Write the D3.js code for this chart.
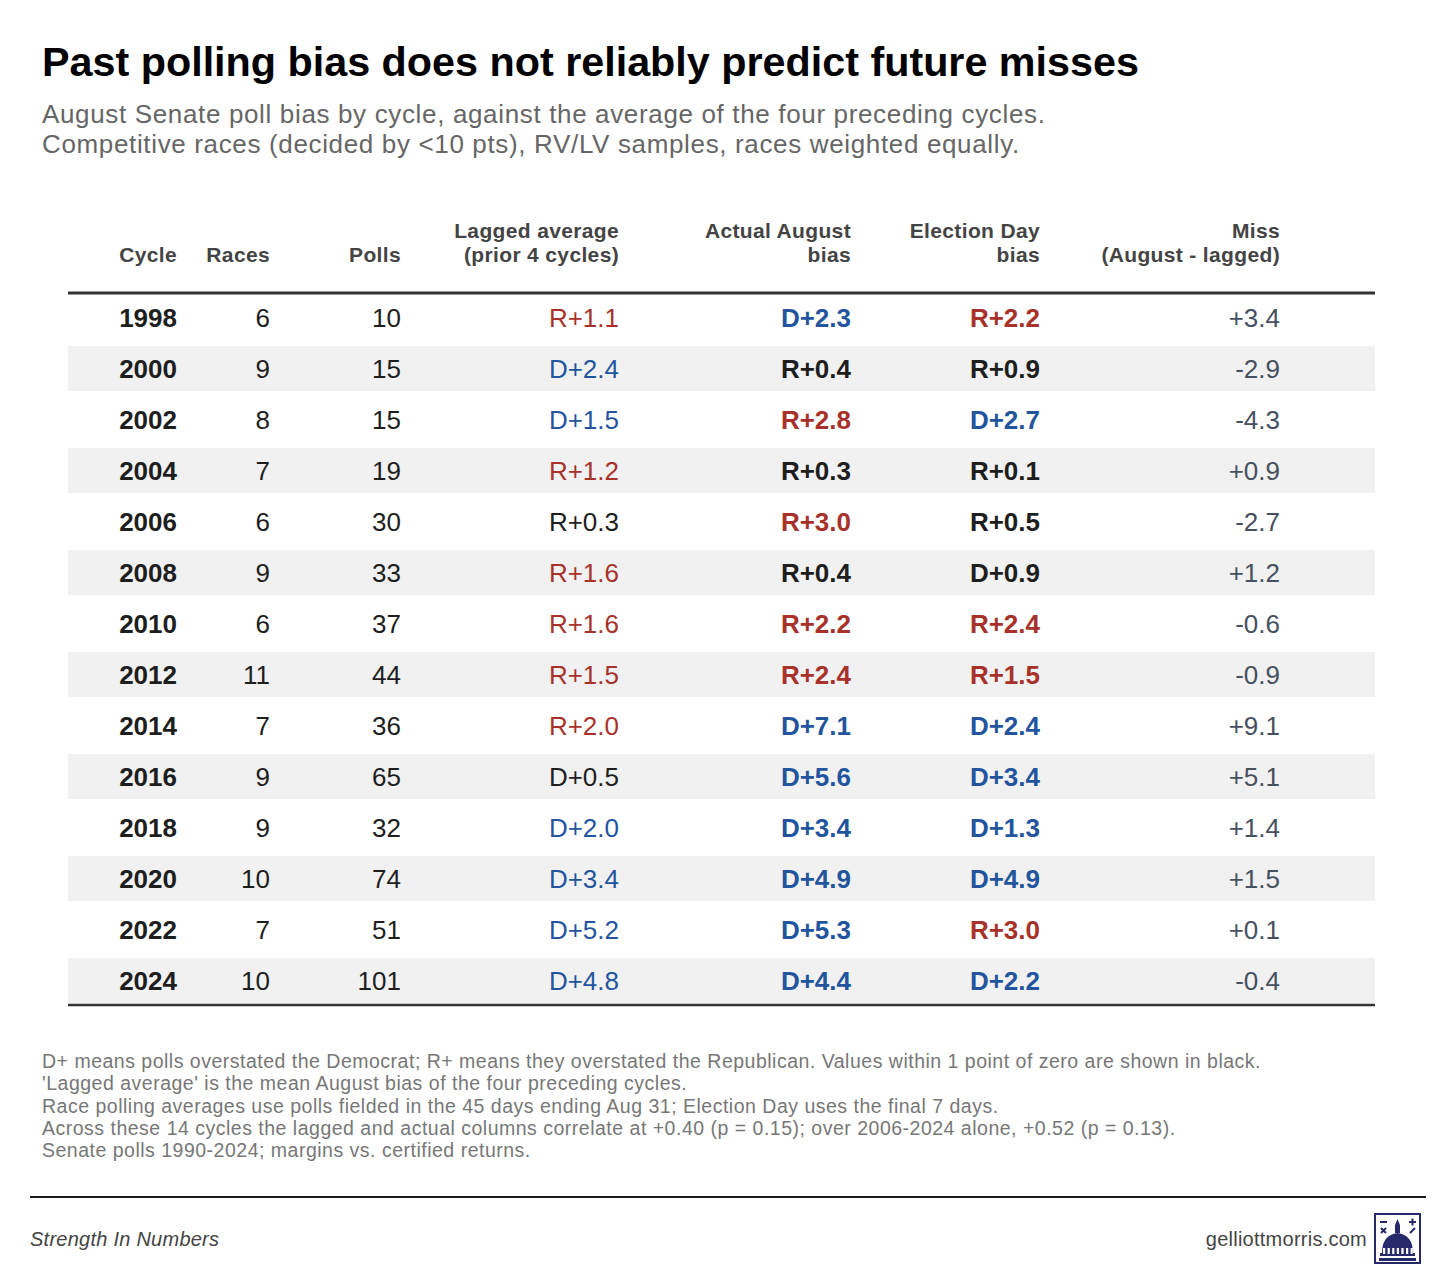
<!DOCTYPE html>
<html>
<head>
<meta charset="utf-8">
<script src="https://cdn.jsdelivr.net/npm/d3@7"></script>
<style>
  body { margin: 0; background: #fff; }
  svg { display: block; font-family: "Liberation Sans", Arial, Helvetica, sans-serif; }
</style>
</head>
<body>
<svg id="chart" width="1456" height="1274"></svg>
<script>
// table values (bias: positive = D+, negative = R+)
var cycles = [1998, 2000, 2002, 2004, 2006, 2008, 2010, 2012, 2014, 2016, 2018, 2020, 2022, 2024];
var races = [6, 9, 8, 7, 6, 9, 6, 11, 7, 9, 9, 10, 7, 10];
var polls = [10, 15, 15, 19, 30, 33, 37, 44, 36, 65, 32, 74, 51, 101];
var lagged = [-1.1, 2.4, 1.5, -1.2, -0.3, -1.6, -1.6, -1.5, -2.0, 0.5, 2.0, 3.4, 5.2, 4.8];
var actual = [2.3, -0.4, -2.8, -0.3, -3.0, -0.4, -2.2, -2.4, 7.1, 5.6, 3.4, 4.9, 5.3, 4.4];
var electionDay = [-2.2, -0.9, 2.7, -0.1, -0.5, 0.9, -2.4, -1.5, 2.4, 3.4, 1.3, 4.9, -3.0, 2.2];
var miss = [3.4, -2.9, -4.3, 0.9, -2.7, 1.2, -0.6, -0.9, 9.1, 5.1, 1.4, 1.5, 0.1, -0.4];

var colKeys = ["cycle", "races", "polls", "lagged", "actual", "eday", "miss"];
var colHeaders = [["Cycle"], ["Races"], ["Polls"], ["Lagged average", "(prior 4 cycles)"],
	["Actual August", "bias"], ["Election Day", "bias"], ["Miss", "(August - lagged)"]];

var notes = [
	"D+ means polls overstated the Democrat; R+ means they overstated the Republican. Values within 1 point of zero are shown in black.",
	"'Lagged average' is the mean August bias of the four preceding cycles.",
	"Race polling averages use polls fielded in the 45 days ending Aug 31; Election Day uses the final 7 days.",
	"Across these 14 cycles the lagged and actual columns correlate at +0.40 (p = 0.15); over 2006-2024 alone, +0.52 (p = 0.13).",
	"Senate polls 1990-2024; margins vs. certified returns."
];

var RED = "#a8322a", BLUE = "#23559e", INK = "#1e1e1e";

function fmtBias(v) {
	return (v >= 0 ? "D+" : "R+") + Math.abs(v).toFixed(1);
}
function biasColor(v) {
	if (Math.abs(v) < 1) return INK;
	return v > 0 ? BLUE : RED;
}
function fmtMiss(v) {
	return (v >= 0 ? "+" : "-") + Math.abs(v).toFixed(1);
}

var svg = d3.select("#chart");
var left = 68, right = 1375;

var y = d3.scaleBand().domain(cycles).range([292, 1006]);
var x = d3.scaleOrdinal().domain(colKeys).range([177, 270, 401, 619, 851, 1040, 1280]);

// title + subtitle
svg.append("text").attr("x", 42).attr("y", 76)
	.attr("font-size", 41.3).attr("font-weight", "bold").attr("fill", "#000")
	.text("Past polling bias does not reliably predict future misses");
var sub = ["August Senate poll bias by cycle, against the average of the four preceding cycles.",
	"Competitive races (decided by <10 pts), RV/LV samples, races weighted equally."];
svg.selectAll(".sub").data(sub).enter().append("text")
	.attr("x", 42).attr("y", function(d, i) { return 123 + i * 30; })
	.attr("font-size", 26).attr("letter-spacing", 0.65).attr("fill", "#666")
	.text(function(d) { return d; });

// headers
var hdr = svg.append("g").attr("font-size", 21).attr("letter-spacing", 0.35)
	.attr("font-weight", "bold").attr("fill", "#444");
colKeys.forEach(function(k, i) {
	var lines = colHeaders[i];
	lines.forEach(function(l, j) {
		hdr.append("text")
			.attr("x", x(k)).attr("text-anchor", "end")
			.attr("y", 262 - (lines.length - 1 - j) * 24.5)
			.text(l);
	});
});

// stripes
var rows = cycles.map(function(c, i) {
	return {cycle: c, races: races[i], polls: polls[i], lagged: lagged[i],
		actual: actual[i], eday: electionDay[i], miss: miss[i], i: i};
});
svg.selectAll(".stripe").data(rows.filter(function(d) { return d.i % 2 == 1; }))
	.enter().append("rect")
	.attr("x", left).attr("width", right - left)
	.attr("y", function(d) { return y(d.cycle) + 3; })
	.attr("height", y.bandwidth() - 6)
	.attr("fill", "#f1f1f1");

// cells
var cells = [
	{k: "cycle", txt: function(d) { return d.cycle; }, col: function() { return INK; }, bold: true},
	{k: "races", txt: function(d) { return d.races; }, col: function() { return INK; }, bold: false},
	{k: "polls", txt: function(d) { return d.polls; }, col: function() { return INK; }, bold: false},
	{k: "lagged", txt: function(d) { return fmtBias(d.lagged); }, col: function(d) { return biasColor(d.lagged); }, bold: false},
	{k: "actual", txt: function(d) { return fmtBias(d.actual); }, col: function(d) { return biasColor(d.actual); }, bold: true},
	{k: "eday", txt: function(d) { return fmtBias(d.eday); }, col: function(d) { return biasColor(d.eday); }, bold: true},
	{k: "miss", txt: function(d) { return fmtMiss(d.miss); }, col: function() { return "#46505f"; }, bold: false}
];
cells.forEach(function(c) {
	svg.append("g").selectAll("text").data(rows).enter().append("text")
		.attr("x", x(c.k)).attr("text-anchor", "end")
		.attr("y", function(d) { return y(d.cycle) + y.bandwidth() / 2 + 9; })
		.attr("font-size", 26)
		.attr("font-weight", c.bold ? "bold" : "normal")
		.attr("fill", c.col)
		.text(c.txt);
});

// table rules
svg.append("line").attr("x1", left).attr("x2", right).attr("y1", 293).attr("y2", 293)
	.attr("stroke", "#333").attr("stroke-width", 3);
svg.append("line").attr("x1", left).attr("x2", right).attr("y1", 1005).attr("y2", 1005)
	.attr("stroke", "#333").attr("stroke-width", 2.5);

// notes
svg.selectAll(".note").data(notes).enter().append("text")
	.attr("x", 42).attr("y", function(d, i) { return 1068 + i * 22.3; })
	.attr("font-size", 19.5).attr("letter-spacing", 0.5).attr("fill", "#777")
	.text(function(d) { return d; });

// footer
svg.append("line").attr("x1", 30).attr("x2", 1426).attr("y1", 1197).attr("y2", 1197)
	.attr("stroke", "#1a1a1a").attr("stroke-width", 2);
svg.append("text").attr("x", 30).attr("y", 1246)
	.attr("font-size", 20).attr("letter-spacing", 0.25).attr("font-style", "italic").attr("fill", "#444")
	.text("Strength In Numbers");
svg.append("text").attr("x", 1367).attr("y", 1246).attr("text-anchor", "end")
	.attr("font-size", 20).attr("letter-spacing", 0.25).attr("fill", "#444")
	.text("gelliottmorris.com");

// logo (capitol dome in a box)
var NAVY = "#262a6b";
var logo = svg.append("g").attr("transform", "translate(1374,1213)");
logo.append("rect").attr("x", 1).attr("y", 1).attr("width", 45).attr("height", 49)
	.attr("fill", "none").attr("stroke", NAVY).attr("stroke-width", 2);
logo.append("path").attr("fill", NAVY)
	.attr("d", "M8,40 Q8,22 23.5,20 Q39,22 39,40 Z M21,20 L21,12 L23.5,6 L26,12 L26,20 Z");
logo.append("rect").attr("x", 6).attr("y", 40).attr("width", 35).attr("height", 3).attr("fill", NAVY);
logo.append("rect").attr("x", 5).attr("y", 45).attr("width", 37).attr("height", 3).attr("fill", NAVY);
logo.selectAll(".col").data(d3.range(7)).enter().append("rect")
	.attr("x", function(d) { return 9 + d * 4.6; }).attr("y", 35).attr("width", 2.2).attr("height", 6)
	.attr("fill", "#fff");
logo.append("path").attr("stroke", NAVY).attr("stroke-width", 2).attr("fill", "none")
	.attr("d", "M6,9 L13,9 M35,9 L42,9 M38.5,5.5 L38.5,12.5 M7,15 L12,20 M12,15 L7,20 M36,20 L41,15");
</script>
</body>
</html>
